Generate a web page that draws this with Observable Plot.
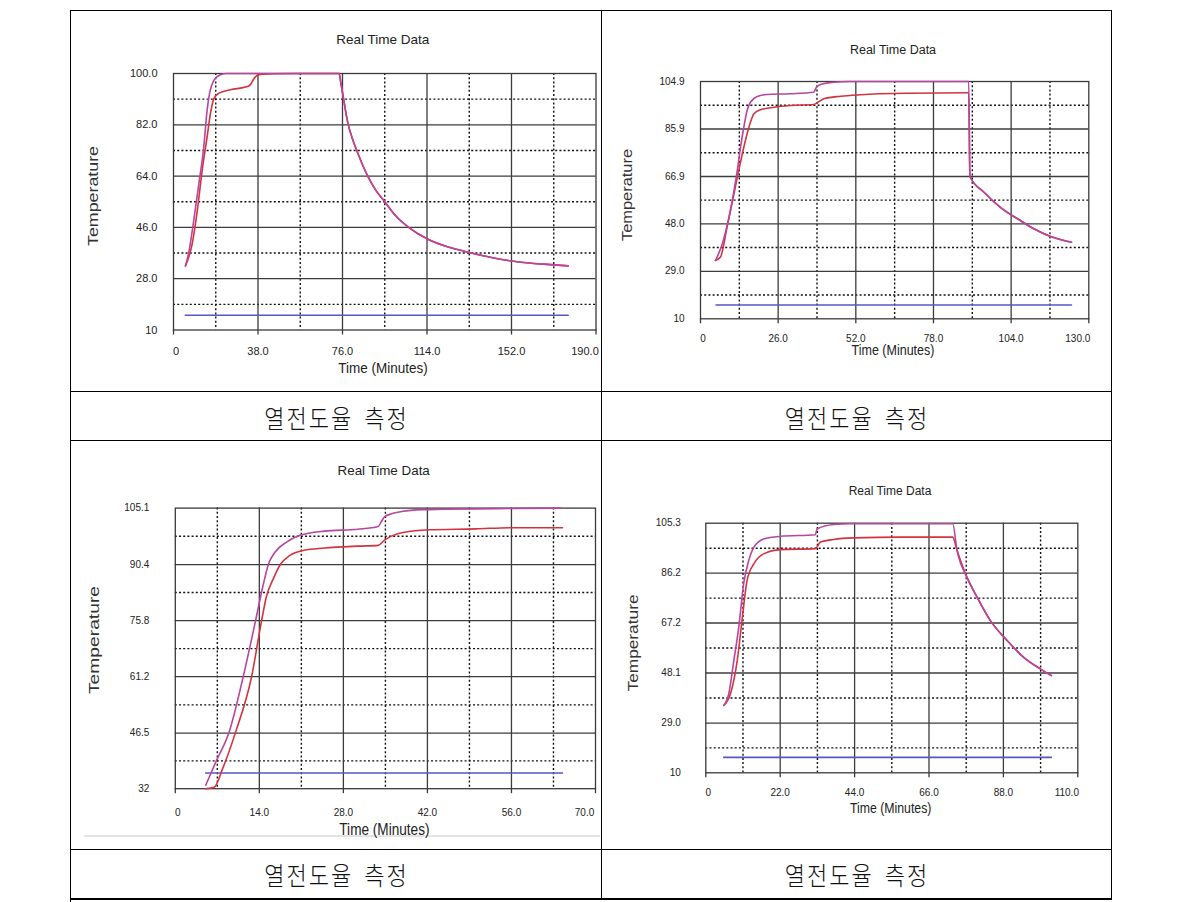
<!DOCTYPE html>
<html><head><meta charset="utf-8">
<script src="https://cdn.jsdelivr.net/npm/d3@7"></script>
<script src="https://cdn.jsdelivr.net/npm/@observablehq/plot@0.6"></script>
<style>
body{margin:0;background:#fff;}
#root{position:relative;width:1180px;height:902px;overflow:hidden;background:#fff;font-family:"Liberation Sans",Arial,sans-serif;}
.panel{position:absolute;overflow:visible;}
.panel svg{position:absolute;left:0;top:0;}
.lbl{position:absolute;white-space:nowrap;color:#222;line-height:1;}
.line{position:absolute;background:#000;}
.cap{position:absolute;transform:translate(-50%,-50%) scaleY(1.15);font-family:"Noto Sans CJK KR",sans-serif;font-weight:300;font-size:22px;letter-spacing:2px;word-spacing:4px;white-space:pre;color:#111;line-height:1;}
</style></head><body><div id="root"></div>
<script>
// ---------- DATA ----------
const titleText = "Real Time Data";
const xAxisText = "Time (Minutes)";
const yAxisText = "Temperature";
const captionText = "열전도율 측정";

// Panel 1 (top-left)
const p1XTicks = [0, 38, 76, 114, 152, 190];
const p1XLabels = ["0", "38.0", "76.0", "114.0", "152.0", "190.0"];
const p1YTicks = [10, 28, 46, 64, 82, 100];
const p1YLabels = ["10", "28.0", "46.0", "64.0", "82.0", "100.0"];
const p1UpperT = [5.4, 6.9, 9.1, 11.4, 13.6, 15.1, 16.3, 18.1, 21.1, 24, 35, 50, 65, 74.5, 75.2, 76.5, 78.3, 80.5, 82.8, 87.4, 91, 95, 100, 105.6, 114, 123.9, 133, 142, 151.2, 160, 166.4, 177.5];
const p1UpperV = [32.5, 37.3, 48.4, 61.3, 74.1, 87, 93.4, 97.5, 99.6, 100, 100, 100, 100, 100, 97, 91, 83, 77, 72.2, 63.9, 59, 55, 50, 46.1, 42, 39, 37.2, 35.6, 34.3, 33.5, 33.1, 32.5];
const p1LowerT = [5.4, 8.4, 10.7, 12.9, 15.1, 16.6, 18.1, 20.4, 25.6, 33.1, 34.6, 36.1, 38.4, 45, 55, 74.5, 75.2, 76.5, 78.3, 80.5, 82.8, 87.4, 91, 95, 100, 105.6, 114, 123.9, 133, 142, 151.2, 160, 166.4, 177.5];
const p1LowerV = [32.5, 40.2, 51.9, 66, 77.7, 85.9, 91.1, 93.1, 94.3, 95.4, 96.1, 98.1, 99.6, 99.9, 100, 100, 97, 91, 83, 77, 72.2, 63.9, 59, 55, 50, 46.1, 42, 39, 37.2, 35.6, 34.3, 33.5, 33.1, 32.5];
const p1AmbT = [5.3, 177.5];
const p1AmbV = [15.2, 15.2];

// Panel 2 (top-right)
const p2XTicks = [0, 26, 52, 78, 104, 130];
const p2XLabels = ["0", "26.0", "52.0", "78.0", "104.0", "130.0"];
const p2YTicks = [10, 29.0, 48.0, 66.9, 85.9, 104.9];
const p2YLabels = ["10", "29.0", "48.0", "66.9", "85.9", "104.9"];
const p2UpperT = [5.0, 7.3, 10, 12.3, 13.4, 14.5, 15.6, 16.7, 19, 22.3, 30.1, 37.9, 38.8, 40.7, 44.6, 50, 70, 89.8, 90.2, 94.9, 100.4, 107.1, 111.6, 117.2, 124.2];
const p2UpperV = [33.3, 40, 53.3, 69.3, 78.6, 86.6, 93.3, 96.6, 98.9, 99.7, 100, 100.6, 102.6, 103.9, 104.6, 104.9, 104.9, 104.9, 66.9, 60.6, 54.6, 49.3, 46, 42.9, 40.6];
const p2LowerT = [5.0, 6.7, 8.9, 11.2, 12.8, 14.5, 16.2, 17.9, 20.1, 24.6, 30.1, 37.9, 39.3, 41.3, 46.9, 53.6, 70, 89.8, 90.2, 94.9, 100.4, 107.1, 111.6, 117.2, 124.2];
const p2LowerV = [33.3, 34.7, 46.7, 60, 69.3, 78.6, 86.6, 92, 93.6, 94.6, 95.3, 95.7, 96.6, 98, 99, 99.6, 100.2, 100.4, 66.9, 60.6, 54.6, 49.3, 46, 42.9, 40.6];
const p2AmbT = [5.2, 124.2];
const p2AmbV = [15.5, 15.5];

// Panel 3 (bottom-left)
const p3XTicks = [0, 14, 28, 42, 56, 70];
const p3XLabels = ["0", "14.0", "28.0", "42.0", "56.0", "70.0"];
const p3YTicks = [32, 46.5, 61.2, 75.8, 90.4, 105.1];
const p3YLabels = ["32", "46.5", "61.2", "75.8", "90.4", "105.1"];
const p3UpperT = [5.07, 6.76, 9, 11.3, 13.4, 14.6, 15.5, 16.6, 18.6, 20.8, 24.8, 30.4, 33.8, 34.3, 34.9, 36, 37.7, 41.1, 44.5, 50, 56, 64.2];
const p3UpperV = [32.9, 39, 46.9, 61.1, 76, 84.8, 90.4, 93.6, 96.3, 98, 99.1, 99.6, 100.3, 101.5, 102.9, 103.6, 104.2, 104.7, 104.8, 104.9, 105, 105.1];
const p3LowerT = [5.07, 6.5, 7.9, 10.1, 12.7, 14.4, 15.2, 16.3, 17.5, 19.1, 21.4, 24.8, 30.4, 33.8, 34.9, 37.2, 41.7, 50.1, 56, 64.5];
const p3LowerV = [32, 32.4, 37.3, 47, 61.1, 76, 82.2, 86.6, 90.4, 92.8, 94.1, 94.7, 95.2, 95.4, 96.8, 98.5, 99.4, 99.7, 100, 100];
const p3AmbT = [5.07, 64.5];
const p3AmbV = [36.1, 36.1];

// Panel 4 (bottom-right)
const p4XTicks = [0, 22, 44, 66, 88, 110];
const p4XLabels = ["0", "22.0", "44.0", "66.0", "88.0", "110.0"];
const p4YTicks = [10, 29.0, 48.1, 67.2, 86.2, 105.3];
const p4YLabels = ["10", "29.0", "48.1", "67.2", "86.2", "105.3"];
const p4UpperT = [5.3, 6.8, 8.3, 9.75, 11.2, 12.7, 14.2, 17.1, 22.1, 32.4, 32.9, 37.8, 42.8, 73, 74.3, 77.2, 80.2, 84.1, 89.1, 94, 98.9, 102.2];
const p4UpperV = [35.7, 40.2, 52.9, 65.6, 82.2, 91.1, 96.1, 99.3, 100.3, 100.9, 103.1, 104.8, 105.1, 105.1, 94.9, 84.7, 77.1, 68.2, 60.5, 54.1, 49.7, 47.1];
const p4LowerT = [5.3, 7.3, 9.3, 10.7, 12.2, 14.2, 17.1, 22.1, 32.4, 33.9, 37.8, 43.7, 57.5, 73, 74.3, 77.2, 80.2, 84.1, 89.1, 94, 98.9, 102.2];
const p4LowerV = [35.7, 40.2, 52.9, 68.1, 83.4, 89.8, 93.6, 95.2, 95.6, 98.1, 99.1, 99.7, 100, 100, 94.9, 84.7, 77.1, 68.2, 60.5, 54.1, 49.7, 47.1];
const p4AmbT = [5.3, 102.2];
const p4AmbV = [15.9, 15.9];

// ---------- LAYOUT (positions / styles) ----------
const panels = [
  {cell:[70,10,601,391], frame:[173,73,595.5,329.5],
   title:[382.7,40.4,13.5], ylab:[93,196,100], xlab:[383,368,13.5], tickFs:11, xDy:25, yPad:16,
   xTicks:p1XTicks, xLabels:p1XLabels, yTicks:p1YTicks, yLabels:p1YLabels,
   upper:[p1UpperT,p1UpperV], lower:[p1LowerT,p1LowerV], amb:[p1AmbT,p1AmbV]},
  {cell:[601,10,1111,391], frame:[700,81,1088.3,318.3],
   title:[893,50,12.5], ylab:[626.7,195,92], xlab:[893,350.5,12.5], tickFs:10, xDy:23.4, yPad:16,
   xTicks:p2XTicks, xLabels:p2XLabels, yTicks:p2YTicks, yLabels:p2YLabels,
   upper:[p2UpperT,p2UpperV], lower:[p2LowerT,p2LowerV], amb:[p2AmbT,p2AmbV]},
  {cell:[70,440,601,849], frame:[174.8,507.6,595,788.2],
   title:[383.7,471,13.4], ylab:[94.3,639.5,108], xlab:[384.4,829.5,13.6], tickFs:10, xDy:27, yPad:26,
   xTicks:p3XTicks, xLabels:p3XLabels, yTicks:p3YTicks, yLabels:p3YLabels,
   upper:[p3UpperT,p3UpperV], lower:[p3LowerT,p3LowerV], amb:[p3AmbT,p3AmbV]},
  {cell:[601,440,1111,849], frame:[705.3,522.7,1077.3,772.3],
   title:[890,490.7,12], ylab:[633.3,643.3,97], xlab:[890.7,809.3,12.3], tickFs:10, xDy:23, yPad:25,
   xTicks:p4XTicks, xLabels:p4XLabels, yTicks:p4YTicks, yLabels:p4YLabels,
   upper:[p4UpperT,p4UpperV], lower:[p4LowerT,p4LowerV], amb:[p4AmbT,p4AmbV]}
];

const colUpper = "#b8459e";
const colLower = "#d2333f";
const colAmb = "#5656c8";
const fontFam = '"Liberation Sans", Arial, sans-serif';

const root = document.getElementById("root");

// faint gray line under the bottom-left screenshot (drawn first, beneath text)
const g = document.createElement("div");
g.className = "line";
Object.assign(g.style, {left: "84px", top: "835px", width: "516px", height: "2px", background: "#e4e4e4"});
root.appendChild(g);

function addLabel(parent, text, x, y, css) {
  const d = document.createElement("div");
  d.className = "lbl";
  d.textContent = text;
  d.style.left = x + "px";
  d.style.top = y + "px";
  Object.assign(d.style, css);
  parent.appendChild(d);
  return d;
}

function pairs(ts, vs) { return ts.map((t, i) => ({t, v: vs[i]})); }

panels.forEach(p => {
  const [x0, y0, x1, y1] = p.cell;
  const [L, T, R, B] = p.frame;
  const W = x1 - x0, H = y1 - y0;
  const box = document.createElement("div");
  box.className = "panel";
  box.style.left = x0 + "px";
  box.style.top = y0 + "px";
  box.style.width = W + "px";
  box.style.height = H + "px";
  root.appendChild(box);

  const xT = p.xTicks, yT = p.yTicks;
  const xMinor = xT.slice(1).map((t, i) => (t + xT[i]) / 2);
  const yMinor = yT.slice(1).map((t, i) => (t + yT[i]) / 2);
  const n = xT.length;

  const svg = Plot.plot({
    width: W, height: H,
    marginLeft: L - x0, marginRight: x1 - R, marginTop: T - y0, marginBottom: y1 - B,
    x: {domain: [xT[0], xT[n - 1]], axis: null, label: null},
    y: {domain: [yT[0], yT[yT.length - 1]], axis: null, label: null},
    style: {fontFamily: fontFam, fontSize: p.tickFs + "px", background: "transparent", overflow: "visible", color: "#222"},
    marks: [
      Plot.ruleX(xMinor, {stroke: "#111", strokeWidth: 1.4, strokeDasharray: "2,2.2"}),
      Plot.ruleY(yMinor, {stroke: "#111", strokeWidth: 1.4, strokeDasharray: "2,2.2"}),
      Plot.ruleX(xT.slice(1, -1), {stroke: "#3c3c3c", strokeWidth: 1.3}),
      Plot.ruleY(yT.slice(1, -1), {stroke: "#3c3c3c", strokeWidth: 1.3}),
      Plot.frame({stroke: "#3a3a3a", strokeWidth: 1.3}),
      Plot.axisX({ticks: xT, tickSize: 5, tickFormat: () => "", label: null, stroke: "#3a3a3a", strokeWidth: 1.3}),
      Plot.text(xT.slice(1, -1), {x: d => d, text: (d, i) => p.xLabels[i + 1], frameAnchor: "bottom", dy: p.xDy, fill: "#222"}),
      Plot.text([xT[0]], {x: d => d, text: () => p.xLabels[0], frameAnchor: "bottom", dy: p.xDy, dx: 2.5, fill: "#222"}),
      Plot.text([xT[n - 1]], {x: d => d, text: () => p.xLabels[n - 1], frameAnchor: "bottom", dy: p.xDy, dx: -11, fill: "#222"}),
      Plot.text(yT, {y: d => d, text: (d, i) => p.yLabels[i], frameAnchor: "left", textAnchor: "end", dx: -p.yPad, fill: "#222"}),
      Plot.line(pairs(p.amb[0], p.amb[1]), {x: "t", y: "v", stroke: colAmb, strokeWidth: 1.6}),
      Plot.line(pairs(p.lower[0], p.lower[1]), {x: "t", y: "v", stroke: colLower, strokeWidth: 1.6, curve: "monotone-x"}),
      Plot.line(pairs(p.upper[0], p.upper[1]), {x: "t", y: "v", stroke: colUpper, strokeWidth: 1.6, curve: "monotone-x"})
    ]
  });
  box.appendChild(svg);

  // title
  addLabel(box, titleText, p.title[0] - x0, p.title[1] - y0,
    {fontSize: p.title[2] + "px", transform: "translate(-50%,-50%)"});
  // x axis label
  addLabel(box, xAxisText, p.xlab[0] - x0, p.xlab[1] - y0,
    {fontSize: p.xlab[2] + "px", transform: "translate(-50%,-50%) scaleY(1.15)"});
  // y axis label (rotated, stretched along its length)
  const yl = addLabel(box, yAxisText, p.ylab[0] - x0, p.ylab[1] - y0,
    {fontSize: "14px", color: "#333"});
  const natural = yl.getBoundingClientRect().width;
  const k = p.ylab[2] / natural;
  yl.style.transform = `translate(-50%,-50%) rotate(-90deg) scaleX(${k})`;
});

// table borders
function hline(x, y, w, t) {
  const d = document.createElement("div"); d.className = "line";
  Object.assign(d.style, {left: x + "px", top: y + "px", width: w + "px", height: (t || 1) + "px"});
  root.appendChild(d);
}
function vline(x, y, h, t) {
  const d = document.createElement("div"); d.className = "line";
  Object.assign(d.style, {left: x + "px", top: y + "px", width: (t || 1) + "px", height: h + "px"});
  root.appendChild(d);
}
hline(70, 10, 1042);
hline(70, 391, 1042);
hline(70, 440, 1042);
hline(70, 849, 1042);
hline(70, 898, 1042, 2);
vline(70, 10, 892);
vline(601, 10, 889);
vline(1111, 10, 889);

// captions
[[336.5, 415.5], [857, 415.5], [336.5, 874], [857, 874]].forEach(([x, y]) => {
  const c = document.createElement("div");
  c.className = "cap";
  c.textContent = captionText;
  c.style.left = x + "px";
  c.style.top = y + "px";
  root.appendChild(c);
});
</script></body></html>
